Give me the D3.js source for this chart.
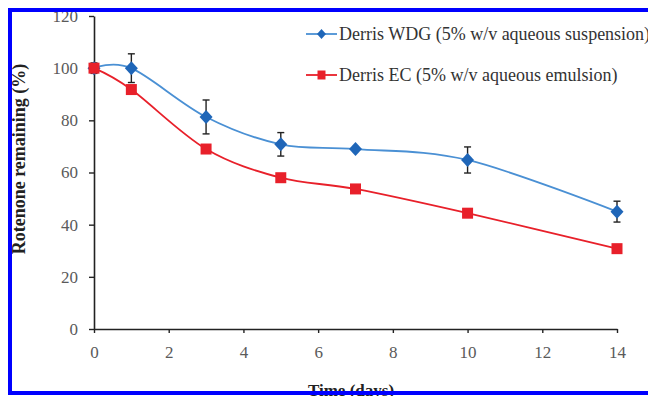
<!DOCTYPE html>
<html>
<head>
<script src="https://d3js.org/d3.v7.min.js"></script>
<style>
  body { margin: 0; background: #fff; }
  svg text { font-family: "Liberation Serif", "Times New Roman", serif; }
</style>
</head>
<body>
<div id="my_dataviz"></div>
<script>

// data
var days = [0, 1, 3, 5, 7, 10, 14];
var wdgValues = [100, 100, 81.3, 70.8, 69.0, 64.8, 45.0];
var wdgErrors = [2, 5.5, 6.5, 4.5, 0, 5, 4];
var ecValues = [100, 91.8, 69.0, 58.0, 53.7, 44.4, 30.8];
var seriesNames = ["Derris WDG (5% w/v aqueous suspension)", "Derris EC (5% w/v aqueous emulsion)"];
var xTicks = [0, 2, 4, 6, 8, 10, 12, 14];
var yTicks = [0, 20, 40, 60, 80, 100, 120];

var W = 648, H = 396;
var margin = {top: 16, right: 31, bottom: 67, left: 94},
    width = W - margin.left - margin.right,
    height = H - margin.top - margin.bottom;

var svg0 = d3.select("#my_dataviz")
  .append("svg")
    .attr("width", W)
    .attr("height", H)
    .attr("font-family", "Liberation Serif, serif");

var svg = svg0.append("g")
    .attr("transform", "translate(" + margin.left + "," + margin.top + ")");

var x = d3.scaleLinear().domain([0, 14]).range([0, width]);
var y = d3.scaleLinear().domain([0, 120]).range([height, 0]);

var blueLine = "#4a90d4", blueMark = "#1f66b8", red = "#e8202a";

// axes
var xAxis = svg.append("g")
  .attr("transform", "translate(0," + height + ")")
  .call(d3.axisBottom(x).tickValues(xTicks).tickSize(4).tickSizeOuter(0).tickPadding(13));
var yAxis = svg.append("g")
  .call(d3.axisLeft(y).tickValues(yTicks).tickSize(5).tickSizeOuter(0).tickPadding(11));

[xAxis, yAxis].forEach(function(a) {
  a.attr("font-family", "Liberation Serif, serif").attr("font-size", 17);
  a.select(".domain").attr("stroke", "#222").attr("stroke-width", 1.6);
  a.selectAll(".tick line").attr("stroke", "#222").attr("stroke-width", 1.4);
  a.selectAll(".tick text").attr("fill", "#5a5a5a");
});

// axis titles
svg0.append("text")
  .attr("x", 351)
  .attr("y", 396)
  .attr("text-anchor", "middle")
  .style("font-size", "17px")
  .style("font-weight", "bold")
  .attr("fill", "#222")
  .text("Time (days)");

svg0.append("text")
  .attr("transform", "translate(25,159) rotate(-90)")
  .attr("text-anchor", "middle")
  .style("font-size", "18px")
  .style("font-weight", "bold")
  .attr("fill", "#222")
  .text("Rotenone remaining (%)");

// lines
var line = d3.line()
  .x(function(d) { return x(d[0]); })
  .y(function(d) { return y(d[1]); })
  .curve(d3.curveCatmullRom.alpha(0));

var wdg = days.map(function(d, i) { return [d, wdgValues[i], wdgErrors[i]]; });
var ec = days.map(function(d, i) { return [d, ecValues[i]]; });

svg.append("path")
  .attr("d", line(ec))
  .attr("fill", "none")
  .attr("stroke", red)
  .attr("stroke-width", 1.8);

svg.append("path")
  .attr("d", line(wdg))
  .attr("fill", "none")
  .attr("stroke", blueLine)
  .attr("stroke-width", 1.8);

// error bars (WDG)
var eb = svg.selectAll("g.err")
  .data(wdg.filter(function(d) { return d[2] > 0; }))
  .enter().append("g")
  .attr("stroke", "#222")
  .attr("stroke-width", 1.4);
eb.append("line")
  .attr("x1", function(d) { return x(d[0]); })
  .attr("x2", function(d) { return x(d[0]); })
  .attr("y1", function(d) { return y(d[1] + d[2]); })
  .attr("y2", function(d) { return y(d[1] - d[2]); });
eb.append("line")
  .attr("x1", function(d) { return x(d[0]) - 3.5; })
  .attr("x2", function(d) { return x(d[0]) + 3.5; })
  .attr("y1", function(d) { return y(d[1] + d[2]); })
  .attr("y2", function(d) { return y(d[1] + d[2]); });
eb.append("line")
  .attr("x1", function(d) { return x(d[0]) - 3.5; })
  .attr("x2", function(d) { return x(d[0]) + 3.5; })
  .attr("y1", function(d) { return y(d[1] - d[2]); })
  .attr("y2", function(d) { return y(d[1] - d[2]); });

// markers
svg.selectAll("path.diamond")
  .data(wdg)
  .enter().append("path")
  .attr("d", "M0,-7L6.5,0L0,7L-6.5,0Z")
  .attr("transform", function(d) { return "translate(" + x(d[0]) + "," + y(d[1]) + ")"; })
  .attr("fill", blueMark);

svg.selectAll("rect.sq")
  .data(ec)
  .enter().append("rect")
  .attr("x", function(d) { return x(d[0]) - 5.5; })
  .attr("y", function(d) { return y(d[1]) - 5.5; })
  .attr("width", 11)
  .attr("height", 11)
  .attr("fill", red);

// legend
var legend = svg0.selectAll("g.legend")
  .data(seriesNames)
  .enter().append("g")
  .attr("transform", function(d, i) { return "translate(306," + (34 + i * 41) + ")"; });
legend.append("line")
  .attr("x1", 0).attr("x2", 31)
  .attr("stroke", function(d, i) { return i === 0 ? blueLine : red; })
  .attr("stroke-width", 1.8);
legend.append("path")
  .attr("d", function(d, i) { return i === 0 ? "M15.5,-5L20,0L15.5,5L11,0Z" : "M11.5,-4.5H19.5V4.5H11.5Z"; })
  .attr("fill", function(d, i) { return i === 0 ? blueMark : red; });
legend.append("text")
  .attr("x", 33)
  .attr("y", 6)
  .style("font-size", "18px")
  .attr("fill", "#333")
  .text(function(d) { return d; });

// blue frame
svg0.append("rect")
  .attr("x", 10).attr("y", 10)
  .attr("width", 720).attr("height", 383)
  .attr("fill", "none")
  .attr("stroke", "#0000ff")
  .attr("stroke-width", 4);

</script>
</body>
</html>
